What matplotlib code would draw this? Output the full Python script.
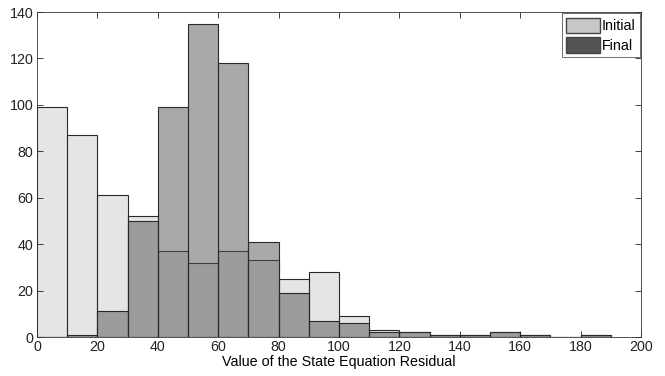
import matplotlib

matplotlib.use("Agg")
import matplotlib.pyplot as plt
import numpy as np
from matplotlib.patches import Patch

plt.rcParams["font.family"] = ["Liberation Sans", "DejaVu Sans"]

# histogram bins (left edges, width 10)
bin_left = list(range(0, 190, 10))
initial_counts = [99, 87, 61, 52, 37, 32, 37, 33, 25, 28, 9, 3, 2, 1, 1, 2, 1, 0, 1]
final_counts = [0, 1, 11, 50, 99, 135, 118, 41, 19, 7, 6, 2, 2, 1, 1, 2, 1, 0, 1]

x_ticks = list(range(0, 201, 20))
y_ticks = list(range(0, 141, 20))

INIT_FACE = (0.8, 0.8, 0.8, 0.5)
FINAL_FACE = (0.33, 0.33, 0.33, 0.5)
EDGE = "#2a2a2a"


def main():
    fig = plt.figure(figsize=(6.65, 3.76), dpi=100)
    ax = fig.add_axes([0.0556, 0.1037, 0.9084, 0.8643])

    ax.bar(bin_left, initial_counts, width=10, align="edge",
           facecolor=INIT_FACE, edgecolor=EDGE, linewidth=0.8)
    ax.bar(bin_left, final_counts, width=10, align="edge",
           facecolor=FINAL_FACE, edgecolor=EDGE, linewidth=0.8)

    ax.set_xlim(0, 200)
    ax.set_ylim(0, 140)
    ax.set_xticks(x_ticks)
    ax.set_yticks(y_ticks)
    ax.tick_params(direction="in", top=True, right=True, length=4,
                   width=0.6, labelsize=10.3, pad=2.5, colors="#222222")
    for sp in ax.spines.values():
        sp.set_linewidth(0.6)
        sp.set_color("#333333")
    ax.set_xlabel("Value of the State Equation Residual", fontsize=10.3, labelpad=0.5)

    handles = [
        Patch(facecolor=(0.78, 0.78, 0.78), edgecolor="#444444", label="Initial"),
        Patch(facecolor=(0.33, 0.33, 0.33), edgecolor="#444444", label="Final"),
    ]
    leg = ax.legend(handles=handles, loc="upper right", fontsize=10.3,
                    fancybox=False, framealpha=1, edgecolor="#555555",
                    handlelength=2.4, handleheight=1.3, handletextpad=0.1,
                    labelspacing=0.25, borderpad=0.3, borderaxespad=0.1)
    leg.get_frame().set_linewidth(0.6)

    fig.savefig("out.png", dpi=100)
    plt.close(fig)


if __name__ == "__main__":
    main()
